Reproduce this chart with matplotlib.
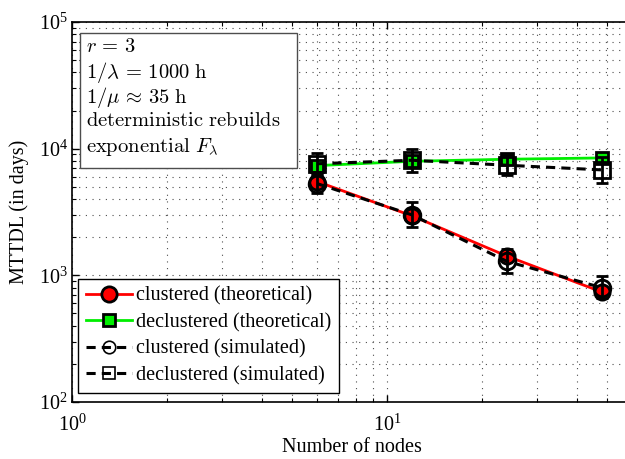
import numpy as np
import matplotlib
matplotlib.use("Agg")
import matplotlib.pyplot as plt
from matplotlib.lines import Line2D
from matplotlib.patches import Rectangle
from matplotlib.ticker import LogLocator, NullFormatter, LogFormatterSciNotation

plt.rcParams['font.family'] = ['Liberation Serif', 'DejaVu Serif']
plt.rcParams['mathtext.fontset'] = 'stix'

# MTTDL (days) vs. number of nodes
nodes = [6, 12, 24, 48]
clus_theory = [5500, 2950, 1420, 740]
declus_theory = [7350, 7950, 8250, 8450]

clus_sim = [5300, 3000, 1290, 800]
clus_sim_lo = [4450, 2400, 1040, 660]
clus_sim_hi = [6300, 3800, 1600, 980]

declus_sim = [7600, 8100, 7400, 6800]
declus_sim_lo = [6250, 6600, 6200, 5350]
declus_sim_hi = [9250, 10000, 8850, 8650]

legend_labels = ["clustered (theoretical)", "declustered (theoretical)",
                 "clustered (simulated)", "declustered (simulated)"]
box_lines = [r"$r\,=\,3$", r"$1/\lambda\,=\,1000\ \mathrm{h}$", r"$1/\mu\,\approx\,35\ \mathrm{h}$",
             r"$\mathrm{deterministic\ rebuilds}$", r"$\mathrm{exponential}\ F_\lambda$"]

W, H = 625, 459
fig = plt.figure(figsize=(W / 100, H / 100), dpi=100)
left, bottom, top = 72, 402, 22
x_max = 60
ax_w = 315 * np.log10(x_max)
ax = fig.add_axes([left / W, (H - bottom) / H, ax_w / W, (bottom - top) / H])

def px(x, y):
    return x / W, 1 - y / H

ax.set_xscale('log')
ax.set_yscale('log')
ax.set_xlim(1, x_max)
ax.set_ylim(1e2, 1e5)

dash = (0, (3, 2))
ax.plot(nodes, clus_theory, color='r', lw=2, marker='o', ms=11, mfc='r', mec='k', mew=2, zorder=3)
ax.plot(nodes, declus_theory, color='#00ee00', lw=2, marker='s', ms=9, mfc='#00ee00', mec='k', mew=2, zorder=3)

for c, lo, hi, m, ms in [(clus_sim, clus_sim_lo, clus_sim_hi, 'o', 12),
                         (declus_sim, declus_sim_lo, declus_sim_hi, 's', 11)]:
    c = np.array(c)
    yerr = [c - np.array(lo), np.array(hi) - c]
    ax.errorbar(nodes, c, yerr=yerr, color='k', ls=dash, lw=2.2, marker=m, ms=ms,
                mfc='none', mec='k', mew=2, capsize=4, capthick=2, elinewidth=2, zorder=4)

ax.grid(True, which='both', ls=(0, (1, 5)), color='0.3', lw=0.8)
ax.xaxis.set_major_locator(LogLocator(base=10))
ax.xaxis.set_minor_locator(LogLocator(base=10, subs=np.arange(2, 10)))
ax.yaxis.set_major_locator(LogLocator(base=10))
ax.yaxis.set_minor_locator(LogLocator(base=10, subs=np.arange(2, 10)))
ax.xaxis.set_minor_formatter(NullFormatter())
ax.yaxis.set_minor_formatter(NullFormatter())
ax.xaxis.set_major_formatter(LogFormatterSciNotation())
ax.yaxis.set_major_formatter(LogFormatterSciNotation())
ax.tick_params(which='both', direction='in', top=True, right=True, labelsize=14.5)
ax.tick_params(which='major', length=5, width=1)
ax.tick_params(which='minor', length=3, width=0.8)
ax.tick_params(axis='x', pad=9)
ax.tick_params(axis='y', pad=3)
for s in ax.spines.values():
    s.set_linewidth(1.2)

ax.set_xlabel("Number of nodes", fontsize=14.5)
ax.set_ylabel("MTTDL (in days)", fontsize=14.5)
ax.xaxis.set_label_coords(0.5, (bottom - 438) / (bottom - top))
ax.yaxis.set_label_coords((29 - left) / ax_w, 0.5)

handles = [
    Line2D([], [], color='r', lw=2, marker='o', ms=11, mfc='r', mec='k', mew=2),
    Line2D([], [], color='#00ee00', lw=2, marker='s', ms=9, mfc='#00ee00', mec='k', mew=2),
    Line2D([], [], color='k', lw=2.2, ls=dash, marker='o', ms=9, mfc='none', mec='k', mew=1.2),
    Line2D([], [], color='k', lw=2.2, ls=dash, marker='s', ms=8, mfc='none', mec='k', mew=1.2),
]
leg = ax.legend(handles, legend_labels, loc='lower left',
                bbox_to_anchor=((78 - left) / ax_w, (bottom - 393) / (bottom - top)),
                borderaxespad=0, fontsize=14.5, fancybox=False, framealpha=1,
                edgecolor='k', handlelength=2.3, handletextpad=0.2,
                labelspacing=0.36, borderpad=0.38)
leg.get_frame().set_linewidth(1.0)
leg.set_zorder(10)

# parameter box in the upper left corner
x0, y0 = px(80, 168.3)
x1, y1 = px(297.3, 33.3)
fig.add_artist(Rectangle((x0, y0), x1 - x0, y1 - y0, transform=fig.transFigure,
                         facecolor='w', edgecolor='0.3', lw=1.0, zorder=5))
for txt, yc in zip(box_lines, [45, 69.3, 94, 119.3, 144]):
    fx, fy = px(86.5, yc)
    fig.text(fx, fy, txt, fontsize=14.8, va='center_baseline', ha='left',
             math_fontfamily='cm', zorder=6)

fig.savefig("out.png", dpi=100)
